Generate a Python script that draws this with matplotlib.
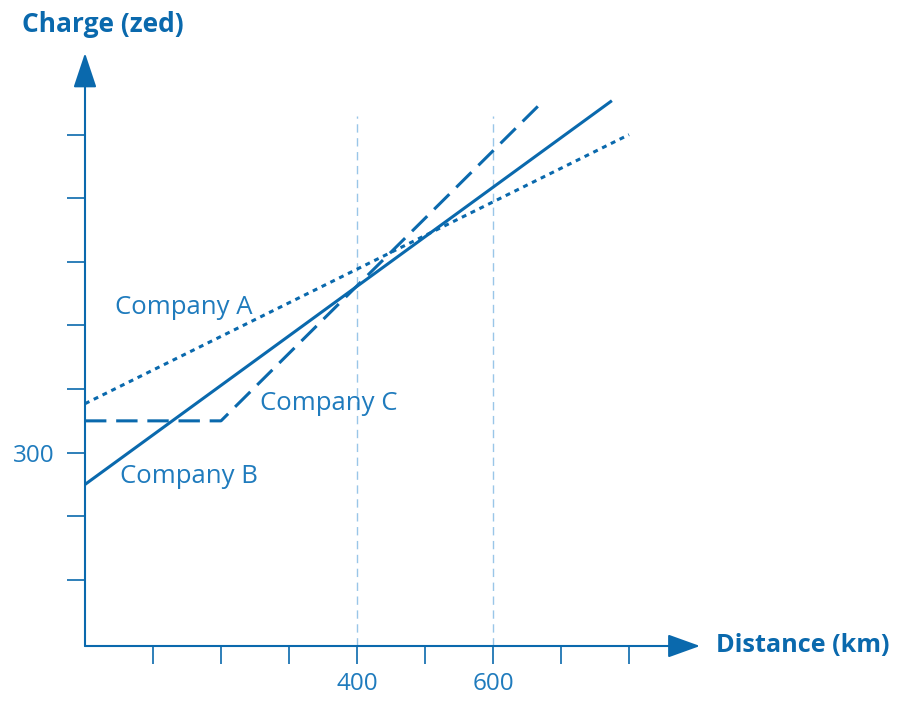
import matplotlib
matplotlib.use('Agg')
import matplotlib.pyplot as plt

# Datos (distancia en km, cargo en zed)
dist_a = [0, 800]
carga_a = [377, 800]
dist_b = [0, 773]
carga_b = [250, 852]
dist_c = [0, 200, 673]
carga_c = [350, 350, 852]
ticks_x = [100, 200, 300, 400, 500, 600, 700, 800]
ticks_y = [100, 200, 300, 400, 500, 600, 700, 800]
etiquetas_x = ['', '', '', '400', '', '600', '', '']
etiquetas_y = ['', '', '300', '', '', '', '', '']
guias_x = [400, 600]

azul = '#0a69ad'
azul_texto = '#1f7bbd'
azul_claro = '#99c6e8'

plt.rcParams['font.family'] = ['Open Sans', 'DejaVu Sans']

fig = plt.figure(figsize=(8.97, 7.01), dpi=100)
W, H = 897, 701
x0, x1 = 85, 700
y0, y1 = 646, 53
ax = fig.add_axes([x0 / W, 1 - y0 / H, (x1 - x0) / W, (y0 - y1) / H])
ax.set_xlim(0, (x1 - x0) / 0.68)
ax.set_ylim(-4, -4 + (y0 - y1) / 0.636)

for s in ax.spines.values():
    s.set_visible(False)

# ejes con flechas
ax.annotate('', xy=(1, 0), xytext=(0, 0), xycoords='axes fraction',
            arrowprops=dict(arrowstyle='-|>,head_length=2.0,head_width=0.72',
                            mutation_scale=10, color=azul, lw=1.5,
                            shrinkA=0, shrinkB=0))
ax.annotate('', xy=(0, 1), xytext=(0, 0), xycoords='axes fraction',
            arrowprops=dict(arrowstyle='-|>,head_length=2.16,head_width=0.72',
                            mutation_scale=10, color=azul, lw=1.5,
                            shrinkA=0, shrinkB=0))

# lineas guia
for g in guias_x:
    ax.plot([g, g], [-4, 830], color=azul_claro, lw=1, dashes=(6, 4))

ax.plot(dist_a, carga_a, color=azul, lw=2.2, dashes=(1.6, 1.6))
ax.plot(dist_b, carga_b, color=azul, lw=2.2)
ax.plot(dist_c, carga_c, color=azul, lw=2.2, dashes=(7, 3.2))

ax.set_xticks(ticks_x)
ax.set_xticklabels(etiquetas_x)
ax.set_yticks(ticks_y)
ax.set_yticklabels(etiquetas_y)
ax.tick_params(axis='both', direction='out', length=13, width=1.2,
               color=azul, labelcolor=azul_texto, labelsize=17.5)
ax.tick_params(axis='x', pad=6)
ax.tick_params(axis='y', pad=9)

ax.text(44, 529, 'Company A', color=azul_texto, fontsize=18.5, va='center')
ax.text(257, 377, 'Company C', color=azul_texto, fontsize=18.5, va='center')
ax.text(51, 263, 'Company B', color=azul_texto, fontsize=18.5, va='center')

fig.text(22 / W, 1 - 25 / H, 'Charge (zed)', color=azul, fontsize=19,
         fontweight='bold', va='center', ha='left')
fig.text(716 / W, 1 - 646 / H, 'Distance (km)', color=azul, fontsize=18.2,
         fontweight='bold', va='center', ha='left')

fig.savefig('out.png', dpi=100)
